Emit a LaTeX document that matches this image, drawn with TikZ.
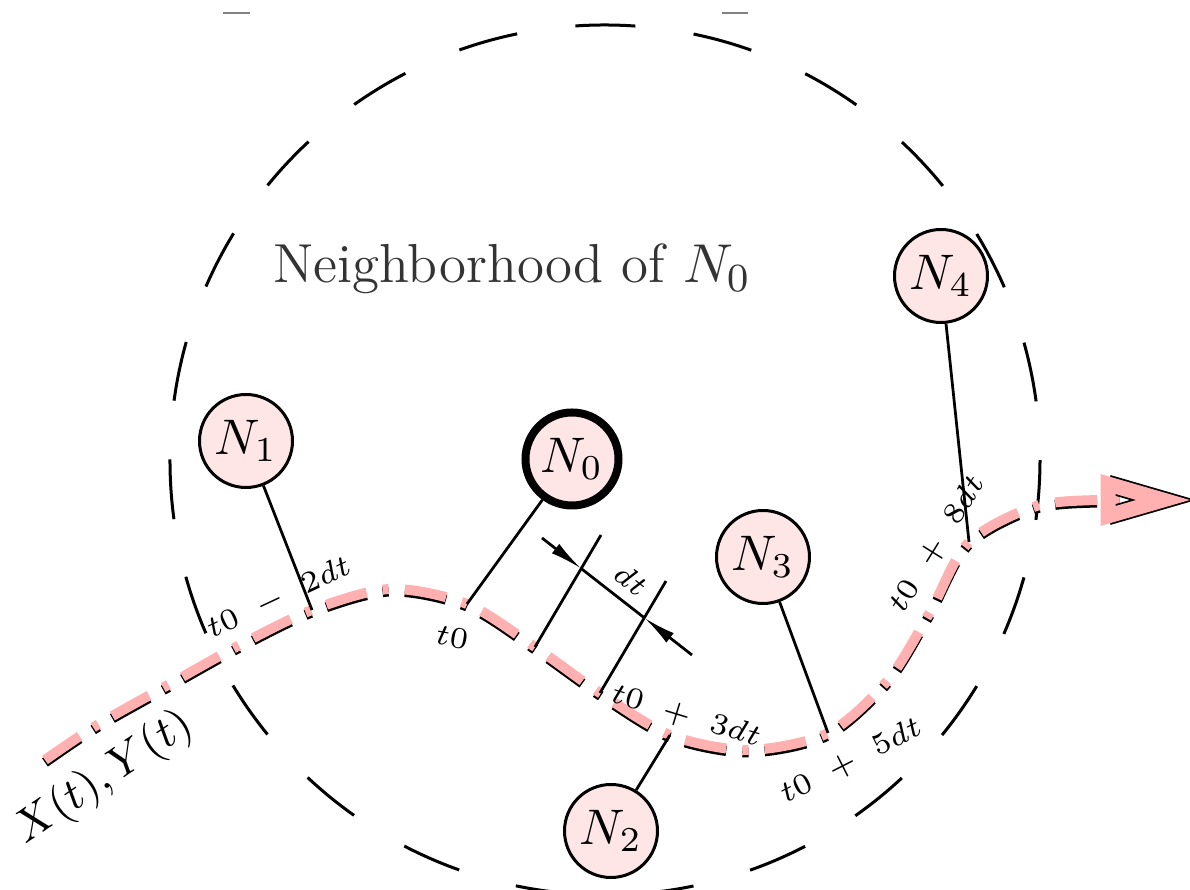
\documentclass[tikz,border=0pt]{standalone}
\usetikzlibrary{arrows.meta}
\definecolor{nodefill}{RGB}{255,230,230}
\definecolor{trail}{RGB}{255,176,176}
\begin{document}
\begin{tikzpicture}[x=0.2pt,y=-0.2pt,
  nd/.style={circle, draw=black, line width=0.6pt, fill=nodefill, minimum size=18.6pt, inner sep=0pt, font=\fontsize{10}{12}\selectfont},
  conn/.style={black, line width=0.55pt},
  ring/.style={black, line width=0.6pt, dash pattern=on 12pt off 11.77pt},
  lbl/.style={inner sep=0pt, font=\fontsize{6.5}{7}\selectfont},
  trailpat/.style={dash pattern=on 8.4pt off 3.25pt on 1.2pt off 3.25pt},
  trailpink/.style={trailpat, draw=trail, line width=2pt},
  trailshadow/.style={trailpat, draw=black, line width=2pt, transform canvas={yshift=-0.5pt}}
]
\useasboundingbox (0,0) rectangle (1190,890);

% neighborhood circle
\draw[ring] (605,460) ++(-86:435) arc[start angle=-86, end angle=-446, radius=435];
\draw[gray, line width=0.4pt] (223,13) -- (250,13);
\draw[gray, line width=0.4pt] (722,13) -- (748,13);

% trajectory points
\coordinate (s)   at (45,760);
\coordinate (pm5) at (97,725);
\coordinate (pm4) at (168,685);
\coordinate (pm3) at (238,646);
\coordinate (pm2) at (312,610);
\coordinate (pm1) at (390,589);
\coordinate (p0)  at (467,604);
\coordinate (p1)  at (535,647);
\coordinate (p2)  at (600,693);
\coordinate (p3)  at (670,735);
\coordinate (p4)  at (748,750);
\coordinate (p5)  at (828,733);
\coordinate (p6)  at (888,680);
\coordinate (p7)  at (930,612);
\coordinate (p8)  at (969,542);
\coordinate (p9)  at (1040,505);
\coordinate (p10) at (1120,500);

% trajectory
\draw[trailshadow] plot[smooth] coordinates {(s) (pm5) (pm4) (pm3) (pm2) (pm1) (p0) (p1) (p2) (p3) (p4) (p5) (p6) (p7) (p8) (p9) (p10)};
\draw[trailpink] plot[smooth] coordinates {(s) (pm5) (pm4) (pm3) (pm2) (pm1) (p0) (p1) (p2) (p3) (p4) (p5) (p6) (p7) (p8) (p9) (p10)};
% arrow head
\coordinate (ha) at (1108,484);
\coordinate (ht) at (1163,500);
\coordinate (hb) at (1108,516);
\draw[black, line width=3.7pt, line join=miter] (ha) -- (ht) -- (hb);
\draw[trail, line width=3pt, line join=miter] (ha) -- (ht) -- (hb) -- cycle;

% nodes
\node[nd] (N1) at (246,441) {$N_1$};
\node[nd, line width=1.6pt] (N0) at (572,459) {$N_0$};
\node[nd] (N3) at (763,557) {$N_3$};
\node[nd] (N2) at (611,831) {$N_2$};
\node[nd] (N4) at (941,276) {$N_4$};

\node[anchor=base, inner sep=0pt, text=black!80, font=\fontsize{11}{13}\selectfont] (title) at (512,283) {Neighborhood of $N_0$};

% connectors
\draw[conn] (N1) -- (pm2);
\draw[conn] (N0) -- (p0);
\draw[conn] (N2) -- (p3);
\draw[conn] (N3) -- (p5);
\draw[conn] (N4) -- (p8);

% dt dimension
\coordinate (e1) at (601,535);
\coordinate (e2) at (666,581);
\coordinate (d1) at (542,538);
\coordinate (d2) at (692,655);
\draw[conn] (p1) -- (e1);
\draw[conn] (p2) -- (e2);
\coordinate (c1) at (intersection of p1--e1 and d1--d2);
\coordinate (c2) at (intersection of p2--e2 and d1--d2);
\draw[conn] (c1) -- (c2);
\draw[conn, -{Latex[length=6.5pt,width=2.4pt]}] (d1) -- (c1);
\draw[conn, -{Latex[length=6.5pt,width=2.4pt]}] (d2) -- (c2);
\node[lbl, rotate=-38] (dtl) at (631,580) {$dt$};

% time labels
\node[lbl, rotate=25] (l1) at (279,598) {$t0 \mskip6mu - \mskip6mu 2dt$};
\node[lbl, rotate=-10] (l2) at (452,637) {$t0$};
\node[lbl, rotate=-17] (l3) at (686,716) {$t0 \mskip6mu + \mskip6mu 3dt$};
\node[lbl, rotate=27] (l4) at (851,761) {$t0 \mskip6mu + \mskip6mu 5dt$};
\node[lbl, rotate=58] (l5) at (937,544) {$t0 \mskip6mu + \mskip6mu 8dt$};
\node[inner sep=0pt, rotate=34, font=\fontsize{9.2}{11}\selectfont] (xy) at (104,778) {$X(t),Y(t)$};
\end{tikzpicture}
\end{document}
